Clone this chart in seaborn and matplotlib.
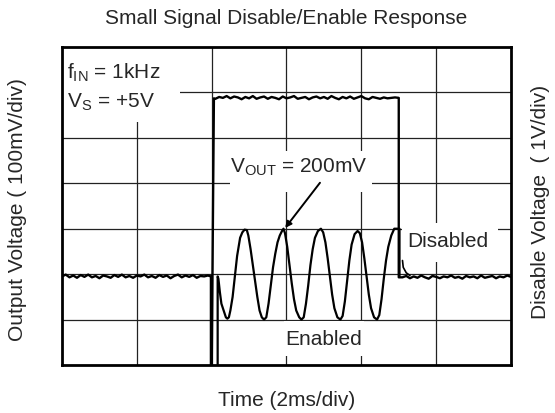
import matplotlib
matplotlib.use("Agg")
import matplotlib.pyplot as plt
from matplotlib.patches import Rectangle
import seaborn as sns

# time in divisions (2ms/div), level in divisions
disable_t = [0.00, 0.05, 0.10, 0.15, 0.20, 0.25, 0.30, 0.35, 0.40, 0.45,
             0.50, 0.55, 0.60, 0.65, 0.70, 0.75, 0.80, 0.85, 0.90, 0.95,
             1.00, 1.05, 1.10, 1.15, 1.20, 1.25, 1.30, 1.35, 1.40, 1.45,
             1.50, 1.55, 1.60, 1.65, 1.70, 1.75, 1.80, 1.85, 1.90, 1.95,
             1.99, 1.99, 2.00, 2.03,
             2.05, 2.10, 2.15, 2.20, 2.25, 2.30, 2.35, 2.40, 2.45, 2.50,
             2.55, 2.60, 2.65, 2.70, 2.75, 2.80, 2.85, 2.90, 2.95, 3.00,
             3.05, 3.10, 3.15, 3.20, 3.25, 3.30, 3.35, 3.40, 3.45, 3.50,
             3.55, 3.60, 3.65, 3.70, 3.75, 3.80, 3.85, 3.90, 3.95, 4.00,
             4.05, 4.10, 4.15, 4.20, 4.25, 4.30, 4.35, 4.40, 4.45,
             4.50, 4.50,
             4.55, 4.60, 4.65, 4.70, 4.75, 4.80, 4.85, 4.90, 4.95, 5.00,
             5.05, 5.10, 5.15, 5.20, 5.25, 5.30, 5.35, 5.40, 5.45, 5.50,
             5.55, 5.60, 5.65, 5.70, 5.75, 5.80, 5.85, 5.90, 5.95, 6.00]
disable_v = [1.95, 1.99, 1.93, 1.97, 1.92, 1.98, 1.94, 1.99, 1.93, 1.96,
             1.91, 1.97, 1.95, 1.92, 1.98, 1.94, 1.99, 1.93, 1.96, 1.92,
             1.97, 1.95, 1.99, 1.93, 1.96, 1.92, 1.98, 1.94, 1.97, 1.91,
             1.96, 1.99, 1.93, 1.97, 1.94, 1.98, 1.92, 1.96, 1.95, 1.97,
             1.95, -0.2, -0.2, 5.87,
             5.86, 5.90, 5.88, 5.92, 5.87, 5.91, 5.89, 5.85, 5.90, 5.87,
             5.92, 5.86, 5.89, 5.91, 5.86, 5.90, 5.88, 5.85, 5.91, 5.87,
             5.89, 5.92, 5.86, 5.88, 5.90, 5.85, 5.89, 5.91, 5.87, 5.90,
             5.86, 5.92, 5.88, 5.85, 5.90, 5.87, 5.91, 5.86, 5.89, 5.92,
             5.87, 5.85, 5.90, 5.88, 5.86, 5.89, 5.87, 5.88, 5.89,
             5.88, 1.93,
             1.93, 1.96, 1.91, 1.95, 1.92, 1.97, 1.93, 1.90, 1.96, 1.94,
             1.91, 1.95, 1.93, 1.97, 1.92, 1.94, 1.90, 1.96, 1.93, 1.95,
             1.91, 1.97, 1.92, 1.94, 1.96, 1.91, 1.95, 1.93, 1.97, 1.94]

output_t = [2.08, 2.08, 2.09, 2.11, 2.13, 2.16, 2.19, 2.21, 2.23, 2.25,
            2.28, 2.30, 2.32, 2.34, 2.36, 2.38, 2.41, 2.44, 2.47, 2.49,
            2.52, 2.55, 2.58, 2.61, 2.64, 2.67, 2.70, 2.73, 2.76, 2.79,
            2.82, 2.85, 2.88, 2.91, 2.94, 2.96, 2.98, 3.01, 3.04, 3.07,
            3.10, 3.13, 3.17, 3.20, 3.23, 3.26, 3.29, 3.32, 3.35, 3.38,
            3.42, 3.46, 3.49, 3.52, 3.55, 3.58, 3.61, 3.64, 3.68, 3.72,
            3.75, 3.78, 3.81, 3.84, 3.87, 3.91, 3.95, 3.98, 4.01, 4.04,
            4.07, 4.10, 4.13, 4.17, 4.21, 4.24, 4.27, 4.30, 4.33, 4.36,
            4.40, 4.44, 4.47, 4.51, 4.51]
output_v = [-0.2, 1.95, 1.90, 1.60, 1.35, 1.20, 1.05, 1.02, 1.05, 1.20,
            1.50, 1.80, 2.10, 2.40, 2.60, 2.80, 2.92, 2.98, 2.97, 2.85,
            2.55, 2.20, 1.85, 1.50, 1.20, 1.05, 1.00, 1.05, 1.35, 1.75,
            2.15, 2.45, 2.70, 2.85, 2.95, 3.00, 2.90, 2.60, 2.20, 1.80,
            1.45, 1.20, 1.05, 1.00, 1.05, 1.35, 1.75, 2.20, 2.55, 2.80,
            2.95, 3.00, 2.92, 2.70, 2.35, 1.95, 1.55, 1.25, 1.05, 1.00,
            1.08, 1.40, 1.85, 2.30, 2.65, 2.88, 2.95, 2.90, 2.70, 2.35,
            1.95, 1.55, 1.25, 1.05, 1.00, 1.10, 1.45, 1.90, 2.30, 2.60,
            2.85, 3.00, 3.00, 3.00, 1.95]

hook_t = [4.55, 4.56, 4.60, 4.65]
hook_v = [2.30, 2.15, 2.03, 1.97]

sns.set_style("white")
plt.rcParams['font.family'] = ['Liberation Sans', 'DejaVu Sans']

fig = plt.figure(figsize=(5.55, 4.14), dpi=100)
ax = fig.add_axes([62 / 555, 48 / 414, 449 / 555, 318 / 414])

sns.lineplot(x=disable_t, y=disable_v, sort=False, estimator=None,
             color='black', lw=1.7, ax=ax)
sns.lineplot(x=output_t, y=output_v, sort=False, estimator=None,
             color='black', lw=1.6, ax=ax)
sns.lineplot(x=hook_t, y=hook_v, sort=False, estimator=None,
             color='black', lw=1.2, ax=ax)

ax.set_xlim(0, 6)
ax.set_ylim(0, 7)
ax.set_xticks([1, 2, 3, 4, 5])
ax.set_yticks([1, 2, 3, 4, 5, 6])
ax.set_xticklabels([])
ax.set_yticklabels([])
ax.tick_params(length=0)
ax.grid(True, color='#222222', lw=0.9)
ax.set_axisbelow(True)
for s in ax.spines.values():
    s.set_color('black')
    s.set_linewidth(2)

# white boxes behind the labels, hiding the graticule
for (x0, y0, w, h) in [(0.0, 5.35, 1.58, 1.65), (2.25, 3.81, 1.89, 0.90),
                       (4.55, 2.27, 1.27, 0.85), (2.96, 0.20, 1.08, 0.77)]:
    ax.add_patch(Rectangle((x0, y0), w, h, facecolor='white',
                           edgecolor='none', zorder=1))

fs = 15
ax.text(0.07, 6.46, r'f$\mathregular{_{IN}}$ = 1kHz', fontsize=fs,
        va='center', ha='left')
ax.text(0.07, 5.80, r'V$\mathregular{_{S}}$ = +5V', fontsize=fs,
        va='center', ha='left')
ax.text(2.25, 4.37, r'V$\mathregular{_{OUT}}$ = 200mV', fontsize=fs,
        va='center', ha='left')
ax.text(4.61, 2.74, 'Disabled', fontsize=fs, va='center', ha='left')
ax.text(3.5, 0.59, 'Enabled', fontsize=fs, va='center', ha='center')
ax.annotate('', xy=(2.96, 2.97), xytext=(3.47, 4.06),
            arrowprops=dict(arrowstyle='-|>', color='black', lw=1.4,
                            mutation_scale=9))

fig.text(0.516, 1 - 18 / 414, 'Small Signal Disable/Enable Response',
         fontsize=fs, ha='center', va='center')
fig.text(0.516, 1 - 401 / 414, 'Time (2ms/div)', fontsize=fs,
         ha='center', va='center')
fig.text(18 / 555, 1 - 210 / 414, 'Output Voltage ( 100mV/div)',
         fontsize=fs, rotation=90, ha='center', va='center')
fig.text(541 / 555, 1 - 202 / 414, 'Disable Voltage  ( 1V/div)',
         fontsize=fs, rotation=90, ha='center', va='center')

plt.savefig('out.png', dpi=100)
